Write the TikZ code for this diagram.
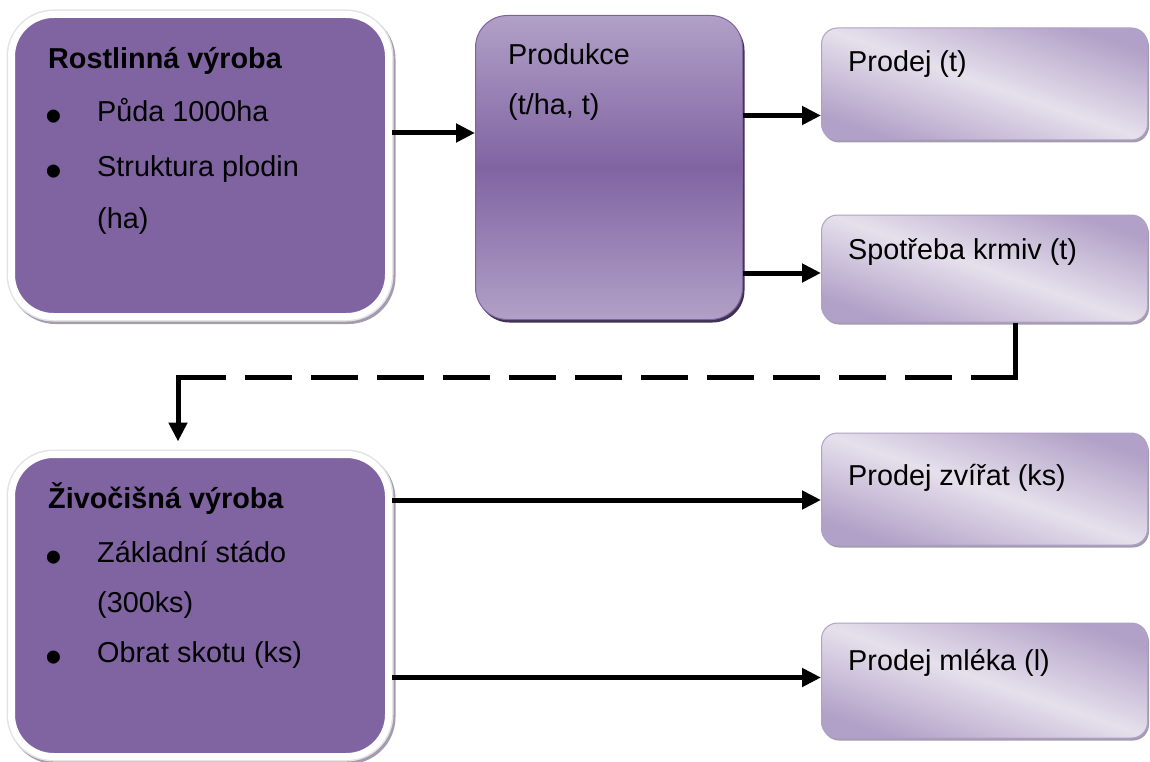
\documentclass[tikz,border=0pt]{standalone}
\usepackage{fontspec}
\setmainfont{Liberation Sans}
\usetikzlibrary{arrows.meta,shadows}

\definecolor{pmain}{HTML}{8064A2}
\definecolor{plight}{HTML}{B1A0C7}
\definecolor{ppale}{HTML}{E6E0EC}
\definecolor{pdark}{HTML}{3F3151}
\definecolor{pborder}{HTML}{7E63A0}
\definecolor{sgrey}{HTML}{A39BAE}
\definecolor{ringgrey}{HTML}{E3E3E3}

\begin{document}
\begin{tikzpicture}[x=1pt,y=-1pt,
  mainbox/.style={rectangle, rounded corners=42pt, fill=pmain, draw=white,
    line width=7pt, minimum width=377pt, minimum height=302pt, inner sep=0pt,
    preaction={draw=sgrey, line width=10pt, transform canvas={shift={(2pt,-2.5pt)}}},
    preaction={draw=ringgrey, line width=10pt}},
  prodbox/.style={rectangle, rounded corners=32pt, draw=pborder, line width=1pt,
    top color=plight, bottom color=plight, middle color=pmain,
    minimum width=267pt, minimum height=304pt, inner sep=0pt,
    drop shadow={shadow xshift=2pt, shadow yshift=-3pt, fill=pdark, opacity=1}},
  outbox/.style={rectangle, rounded corners=16pt, draw=plight, line width=1pt,
    left color=plight, right color=plight, middle color=ppale, shading angle=-19,
    minimum width=326pt, inner sep=0pt,
    drop shadow={shadow xshift=1.5pt, shadow yshift=-2.5pt, fill=sgrey, opacity=1}},
  txt/.style={anchor=base west, inner sep=0pt, font=\fontsize{28.8pt}{34pt}\selectfont},
  btxt/.style={txt, font=\fontsize{28.8pt}{34pt}\selectfont\bfseries},
  bul/.style={anchor=base, inner sep=0pt, yshift=-11pt, font=\fontsize{48pt}{50pt}\selectfont},
  arr/.style={line width=5pt, -{Triangle[length=19pt,width=18pt]}},
]
\useasboundingbox (0,0) rectangle (1150,762);

% boxes
\node[mainbox] (r1) at (200,165.5) {};
\node[prodbox] (prod) at (609,167.5) {};
\node[outbox, minimum height=112pt] (p1) at (984.5,84) {};
\node[outbox, minimum height=107pt] (p2) at (984.5,268.5) {};
\node[outbox, minimum height=112pt] (p3) at (984.5,489) {};
\node[outbox, minimum height=115pt] (p4) at (984.5,680.5) {};
\node[mainbox] (z) at (200,605.5) {};

% texts
\node[btxt] (r1t) at (48,69) {Rostlinná výroba};
\node[bul] (r1b1) at (53.5,122) {•};
\node[txt] (r1l1) at (97,122) {Půda 1000ha};
\node[bul] (r1b2) at (53.5,176) {•};
\node[txt] (r1l2) at (97,176) {Struktura plodin};
\node[txt] (r1l3) at (97,228) {(ha)};

\node[txt] (prodt1) at (508,65) {Produkce};
\node[txt] (prodt2) at (508,115) {(t/ha, t)};

\node[txt] (p1t) at (848,72) {Prodej (t)};
\node[txt] (p2t) at (848,259) {Spotřeba krmiv (t)};
\node[txt] (p3t) at (848,485) {Prodej zvířat (ks)};
\node[txt] (p4t) at (848,670) {Prodej mléka (l)};

\node[btxt] (zt) at (48,508) {Živočišná výroba};
\node[bul] (zb1) at (53.5,562) {•};
\node[txt] (zl1) at (97,562) {Základní stádo};
\node[txt] (zl2) at (97,612) {(300ks)};
\node[bul] (zb2) at (53.5,662) {•};
\node[txt] (zl3) at (97,662) {Obrat skotu (ks)};

% connectors
\draw[arr] ([yshift=32.5pt]r1.east) -- ([yshift=34.5pt]prod.west);
\draw[arr] ([yshift=52pt]prod.east) -- ([yshift=-31.5pt]p1.west);
\draw[arr] ([yshift=-105.5pt]prod.east) -- ([yshift=-4.5pt]p2.west);
\draw[arr] ([yshift=105.5pt]z.east) -- ([yshift=-11pt]p3.west);
\draw[arr] ([yshift=-72pt]z.east) -- ([yshift=3pt]p4.west);

\coordinate (c0) at (1015,374.5);
\coordinate (c1) at (1018,377.5);
\coordinate (c2) at (174.5,377.5);
\coordinate (c3) at (178,374.5);
\draw[line width=5pt] (p2.south -| c0) -- (c0);
\draw[line width=5.5pt, dash pattern=on 47pt off 19pt] (c1) -- (c2);
\draw[arr, shorten >=9.5pt] (c3) -- (z.north -| c3);
\end{tikzpicture}
\end{document}
